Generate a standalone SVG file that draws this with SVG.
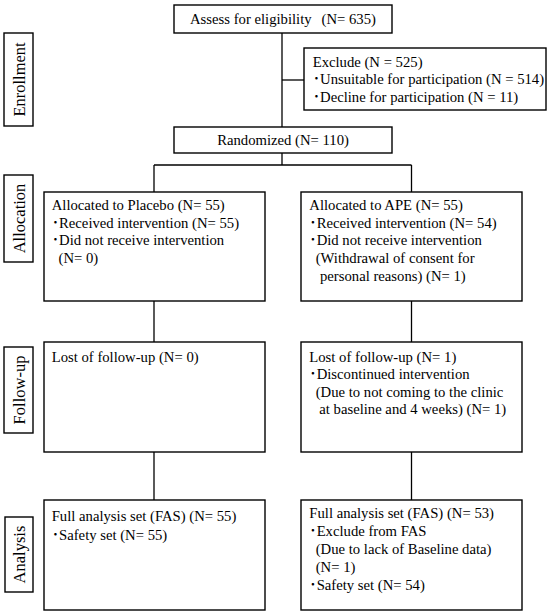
<svg xmlns="http://www.w3.org/2000/svg" width="550" height="616" viewBox="0 0 550 616">
<style>
rect{fill:#fff;stroke:#000;stroke-width:1.4}
line{stroke:#000;stroke-width:1.3}
text{font-family:"Liberation Serif","Times New Roman","Noto Sans CJK JP",serif;font-size:14.7px;fill:#000;white-space:pre}
.side{font-size:16.5px;text-anchor:middle}
.c{text-anchor:middle}
</style>
<rect x="0" y="0" width="550" height="616" style="stroke:none"/>
<g id="connectors">
<line x1="282" y1="33" x2="282" y2="127"/>
<line x1="282" y1="80" x2="304" y2="80"/>
<line x1="282" y1="153" x2="282" y2="165"/>
<line x1="154" y1="165" x2="411.5" y2="165"/>
<line x1="154" y1="165" x2="154" y2="192"/>
<line x1="411.5" y1="165" x2="411.5" y2="192"/>
<line x1="154" y1="301" x2="154" y2="342"/>
<line x1="411.5" y1="301" x2="411.5" y2="342"/>
<line x1="154" y1="452" x2="154" y2="500"/>
<line x1="411.5" y1="452" x2="411.5" y2="500"/>
</g>
<g id="label-enrollment"><rect x="4" y="33" width="29" height="93"/><text class="side" transform="translate(25,79.5) rotate(-90)">Enrollment</text></g>
<g id="label-allocation"><rect x="4" y="175" width="29" height="87"/><text class="side" transform="translate(25,218.5) rotate(-90)">Allocation</text></g>
<g id="label-followup"><rect x="4" y="347" width="29" height="86"/><text class="side" transform="translate(25,390) rotate(-90)">Follow-up</text></g>
<g id="label-analysis"><rect x="5" y="517" width="28" height="75"/><text class="side" transform="translate(25,554.5) rotate(-90)">Analysis</text></g>
<g id="assess"><rect x="174" y="5" width="218" height="28"/><text x="190" y="24">Assess for eligibility<tspan x="321.5">(N= 635)</tspan></text></g>
<g id="exclude"><rect x="304" y="48" width="242" height="62"/>
<text x="312.7" y="66.5">Exclude (N = 525)</text>
<text x="312.7" y="84">･Unsuitable for participation (N = 514)</text>
<text x="312.7" y="101.5">･Decline for participation (N = 11)</text></g>
<g id="randomized"><rect x="174" y="127" width="218" height="26"/><text class="c" x="283" y="145">Randomized (N= 110)</text></g>
<g id="alloc-placebo"><rect x="44" y="192" width="221" height="109"/>
<text x="51.7" y="210">Allocated to Placebo (N= 55)</text>
<text x="51.7" y="227.7">･Received intervention (N= 55)</text>
<text x="51.7" y="245.4">･Did not receive intervention</text>
<text x="58.5" y="263">(N= 0)</text></g>
<g id="alloc-ape"><rect x="301" y="192" width="221" height="109"/>
<text x="309.3" y="210">Allocated to APE (N= 55)</text>
<text x="309.3" y="227.7">･Received intervention (N= 54)</text>
<text x="309.3" y="245.4">･Did not receive intervention</text>
<text x="315.7" y="263">(Withdrawal of consent for</text>
<text x="320" y="280.7">personal reasons) (N= 1)</text></g>
<g id="followup-placebo"><rect x="44" y="342" width="221" height="110"/>
<text x="51.7" y="361.7">Lost of follow-up (N= 0)</text></g>
<g id="followup-ape"><rect x="301" y="342" width="221" height="110"/>
<text x="309.3" y="361.7">Lost of follow-up (N= 1)</text>
<text x="309.3" y="379.2">･Discontinued intervention</text>
<text x="315.7" y="396.7">(Due to not coming to the clinic</text>
<text x="319.3" y="414.2">at baseline and 4 weeks) (N= 1)</text></g>
<g id="analysis-placebo"><rect x="44" y="500" width="221" height="110"/>
<text x="51.7" y="521">Full analysis set (FAS) (N= 55)</text>
<text x="51.7" y="539.5">･Safety set (N= 55)</text></g>
<g id="analysis-ape"><rect x="301" y="500" width="221" height="110"/>
<text x="309.3" y="518">Full analysis set (FAS) (N= 53)</text>
<text x="309.3" y="536">･Exclude from FAS</text>
<text x="315.7" y="554">(Due to lack of Baseline data)</text>
<text x="315.7" y="572">(N= 1)</text>
<text x="309.3" y="590">･Safety set (N= 54)</text></g>
</svg>
